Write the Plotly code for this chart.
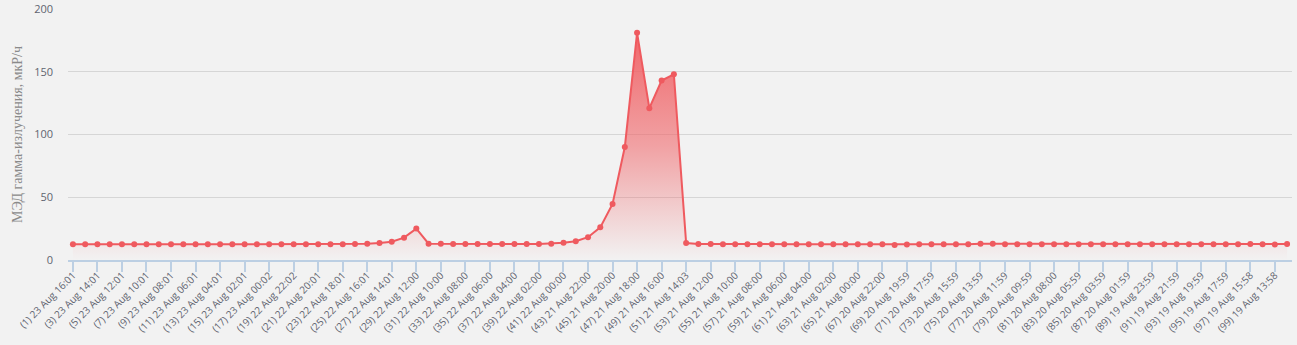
import plotly.graph_objects as go

# point indices 1..100
idx = list(range(1, 101))

values = [
    12.6, 12.5, 12.6, 12.5, 12.6, 12.5, 12.6, 12.6, 12.5, 12.6,   # 1-10
    12.6, 12.5, 12.6, 12.5, 12.6, 12.6, 12.5, 12.6, 12.5, 12.6,   # 11-20
    12.5, 12.6, 12.6, 12.7, 12.9, 13.6, 14.6, 17.8, 25.0, 13.0,   # 21-30
    12.9, 12.8, 12.8, 12.7, 12.7, 12.7, 12.8, 12.7, 12.8, 13.0,   # 31-40
    13.8, 15.0, 18.2, 26.0, 44.7, 90.0, 181.0, 121.0, 143.0, 148.0,  # 41-50
    13.5, 12.8, 12.7, 12.6, 12.6, 12.6, 12.6, 12.6, 12.6, 12.6,   # 51-60
    12.6, 12.6, 12.6, 12.6, 12.6, 12.6, 12.5, 12.0, 12.4, 12.5,   # 61-70
    12.6, 12.6, 12.5, 12.6, 12.9, 12.9, 12.6, 12.6, 12.6, 12.5,   # 71-80
    12.5, 12.5, 12.6, 12.6, 12.6, 12.6, 12.6, 12.6, 12.6, 12.6,   # 81-90
    12.6, 12.6, 12.6, 12.6, 12.6, 12.6, 12.7, 12.6, 12.4, 12.8,   # 91-100
]

tick_positions = list(range(1, 100, 2))
tick_labels = [
    "(1) 23 Aug 16:01", "(3) 23 Aug 14:01", "(5) 23 Aug 12:01", "(7) 23 Aug 10:01",
    "(9) 23 Aug 08:01", "(11) 23 Aug 06:01", "(13) 23 Aug 04:01", "(15) 23 Aug 02:01",
    "(17) 23 Aug 00:02", "(19) 22 Aug 22:02", "(21) 22 Aug 20:01", "(23) 22 Aug 18:01",
    "(25) 22 Aug 16:01", "(27) 22 Aug 14:01", "(29) 22 Aug 12:00", "(31) 22 Aug 10:00",
    "(33) 22 Aug 08:00", "(35) 22 Aug 06:00", "(37) 22 Aug 04:00", "(39) 22 Aug 02:00",
    "(41) 22 Aug 00:00", "(43) 21 Aug 22:00", "(45) 21 Aug 20:00", "(47) 21 Aug 18:00",
    "(49) 21 Aug 16:00", "(51) 21 Aug 14:03", "(53) 21 Aug 12:00", "(55) 21 Aug 10:00",
    "(57) 21 Aug 08:00", "(59) 21 Aug 06:00", "(61) 21 Aug 04:00", "(63) 21 Aug 02:00",
    "(65) 21 Aug 00:00", "(67) 20 Aug 22:00", "(69) 20 Aug 19:59", "(71) 20 Aug 17:59",
    "(73) 20 Aug 15:59", "(75) 20 Aug 13:59", "(77) 20 Aug 11:59", "(79) 20 Aug 09:59",
    "(81) 20 Aug 08:00", "(83) 20 Aug 05:59", "(85) 20 Aug 03:59", "(87) 20 Aug 01:59",
    "(89) 19 Aug 23:59", "(91) 19 Aug 21:59", "(93) 19 Aug 19:59", "(95) 19 Aug 17:59",
    "(97) 19 Aug 15:58", "(99) 19 Aug 13:58",
]

y_ticks = [0, 50, 100, 150, 200]

line_color = "#ef5a5f"

fig = go.Figure()
fig.add_trace(go.Scatter(
    x=idx, y=values,
    mode="lines+markers",
    line=dict(color=line_color, width=2),
    marker=dict(color=line_color, size=6),
    fill="tozeroy",
    fillgradient=dict(
        type="vertical",
        colorscale=[[0, "rgba(240,96,100,0.0)"], [0.5, "rgba(240,96,100,0.55)"],
                    [1, "rgba(240,96,100,0.95)"]],
    ),
    hoverinfo="x+y",
))

fig.update_layout(
    width=1297, height=345,
    margin=dict(l=68, r=5, t=9, b=85),
    paper_bgcolor="#f2f2f2",
    plot_bgcolor="#f2f2f2",
    showlegend=False,
    font=dict(family="Open Sans", color="#5f6470"),
)

fig.update_xaxes(
    range=[0.6, 100.4],
    tickmode="array",
    tickvals=tick_positions,
    ticktext=tick_labels,
    tickangle=-45,
    tickfont=dict(family="Open Sans", size=10, color="#5f6470"),
    ticklabelstandoff=-6,
    showgrid=False,
    showline=True, linecolor="#bccfe3", linewidth=1.5,
    ticks="outside", ticklen=10, tickcolor="#bccfe3", tickwidth=1.5,
    zeroline=False,
    automargin=False,
)

fig.update_yaxes(
    range=[0, 200],
    tickmode="array",
    tickvals=y_ticks,
    tickfont=dict(family="Open Sans", size=11, color="#5f6470"),
    showgrid=True, gridcolor="#d6d6d6", gridwidth=1,
    zeroline=False,
    showline=False,
    ticklabelstandoff=14,
    automargin=False,
    title=dict(text="МЭД гамма-излучения, мкР/ч",
               font=dict(family="Liberation Serif", size=14, color="#8a8a8a"),
               standoff=8),
)

fig.write_html("out.html")
